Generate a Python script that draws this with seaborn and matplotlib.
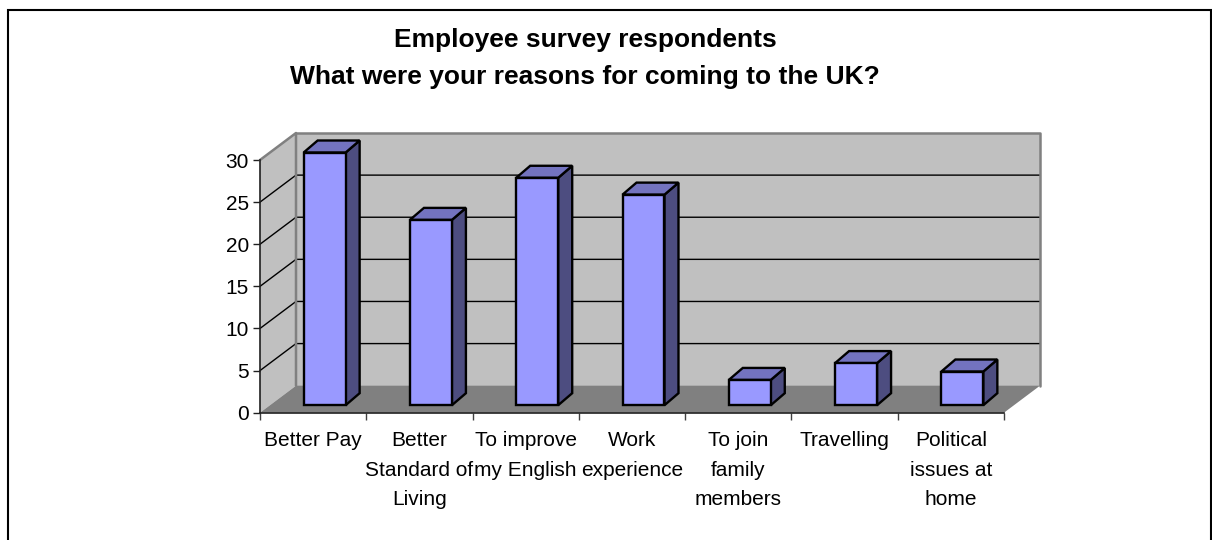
import matplotlib
matplotlib.use("Agg")
import matplotlib.pyplot as plt
from matplotlib.patches import Polygon, Rectangle
from matplotlib.transforms import Affine2D, IdentityTransform
import seaborn as sns

categories = [
    "Better Pay",
    "Better\nStandard of\nLiving",
    "To improve\nmy English",
    "Work\nexperience",
    "To join\nfamily\nmembers",
    "Travelling",
    "Political\nissues at\nhome",
]
responses = [30, 22, 27, 25, 3, 5, 4]
y_ticks = [0, 5, 10, 15, 20, 25, 30]

title_text = "Employee survey respondents\nWhat were your reasons for coming to the UK?"

W, H = 1212, 540
WALL_DX, WALL_DY = 36, 27      # depth of the chart box, in pixels
BAR_DX, BAR_DY = 14, 12        # depth of each bar, in pixels
BAR_OFF_X, BAR_OFF_Y = 11.5, 7.5  # bars sit in the middle of the box depth

WALL = "#C0C0C0"
FLOOR = "#808080"
BAR_FRONT = "#9999FF"
BAR_TOP = "#7373BF"
BAR_SIDE = "#4D4D80"

sns.set_style("white")
plt.rcParams["font.family"] = ["Liberation Sans", "DejaVu Sans"]

fig = plt.figure(figsize=(W / 100, H / 100), dpi=100, facecolor="white")
ax = fig.add_axes([260 / W, (H - 412.7) / H, 744 / W, 252.7 / H])
ax.patch.set_alpha(0)

sns.barplot(x=categories, y=responses, color=BAR_FRONT, saturation=1, width=0.395,
            edgecolor="black", linewidth=1.7, ax=ax, zorder=3)
ax.set_xlim(-0.5, 6.5)
ax.set_ylim(0, 30)
ax.set_yticks(y_ticks)
ax.set_ylabel("")
fig.canvas.draw()


def add_poly(points, face, edge="none", lw=0.0, z=1):
    ax.add_patch(Polygon(points, closed=True, facecolor=face, edgecolor=edge, linewidth=lw,
                         transform=IdentityTransform(), clip_on=False, zorder=z,
                         joinstyle="miter"))


def to_px(x, y):
    return ax.transData.transform((x, y))


# Box: side wall, back wall and floor
x0, x1 = ax.get_xlim()
y0, y1 = ax.get_ylim()
(ax0, ay0), (ax1, ay1) = to_px(x0, y0), to_px(x1, y1)
add_poly([(ax0, ay0), (ax0, ay1), (ax0 + WALL_DX, ay1 + WALL_DY), (ax0 + WALL_DX, ay0 + WALL_DY)],
         WALL, z=0.5)
add_poly([(ax0 + WALL_DX, ay0 + WALL_DY), (ax0 + WALL_DX, ay1 + WALL_DY),
          (ax1 + WALL_DX, ay1 + WALL_DY), (ax1 + WALL_DX, ay0 + WALL_DY)], WALL, z=0.5)
add_poly([(ax0, ay0), (ax1, ay0), (ax1 + WALL_DX, ay0 + WALL_DY), (ax0 + WALL_DX, ay0 + WALL_DY)],
         FLOOR, z=0.6)

# Gridlines run along the side wall and across the back wall
for tick in y_ticks[1:-1]:
    _, py = to_px(x0, tick)
    ax.plot([ax0, ax0 + WALL_DX, ax1 + WALL_DX], [py, py + WALL_DY, py + WALL_DY],
            color="black", lw=1.0, transform=IdentityTransform(), clip_on=False, zorder=0.8)

# Grey outline of the box walls
ax.plot([ax0, ax0 + WALL_DX, ax0 + WALL_DX], [ay1, ay1 + WALL_DY, ay0 + WALL_DY],
        color=FLOOR, lw=1.8, transform=IdentityTransform(), clip_on=False, zorder=0.9)
ax.plot([ax0 + WALL_DX, ax1 + WALL_DX, ax1 + WALL_DX], [ay1 + WALL_DY, ay1 + WALL_DY, ay0 + WALL_DY],
        color=FLOOR, lw=1.8, transform=IdentityTransform(), clip_on=False, zorder=0.9)

# Push the front faces back into the box and add their top and side faces
shift = ax.transData + Affine2D().translate(BAR_OFF_X, BAR_OFF_Y)
for bar in list(ax.patches):
    if not isinstance(bar, Rectangle):
        continue
    bar.set_transform(shift)
    bar.set_clip_on(False)
    left, right = bar.get_x(), bar.get_x() + bar.get_width()
    top = bar.get_height()
    (lx, by) = shift.transform((left, 0))
    (rx, ty) = shift.transform((right, top))
    add_poly([(rx, by), (rx + BAR_DX, by + BAR_DY), (rx + BAR_DX, ty + BAR_DY), (rx, ty)],
             BAR_SIDE, "black", 1.7, z=2.5)
    add_poly([(lx, ty), (lx + BAR_DX, ty + BAR_DY), (rx + BAR_DX, ty + BAR_DY), (rx, ty)],
             BAR_TOP, "black", 1.7, z=2.5)

# Axes
sns.despine(ax=ax, top=True, right=True)
for side in ("left", "bottom"):
    ax.spines[side].set_color("#202020")
    ax.spines[side].set_linewidth(1.2)
    ax.spines[side].set_zorder(4)
ax.set_xticks([i - 0.5 for i in range(8)])
ax.set_xticklabels([])
ax.set_xticks(range(7), categories, minor=True)
ax.tick_params(axis="x", which="major", length=5, width=1, color="#404040", bottom=True)
ax.tick_params(axis="x", which="minor", length=0, pad=13, labelsize=15, labelcolor="black", bottom=False)
ax.tick_params(axis="y", length=5, width=1, color="#202020", pad=3, labelsize=15, labelcolor="black", left=True)
for label in ax.get_xticklabels(minor=True):
    label.set_linespacing(1.72)
    label.set_ha("center")

# Title, centred over the plot area
fig.text(585 / W, (H - 58.5) / H, title_text, ha="center", va="center", fontsize=19,
         fontweight="bold", color="black", linespacing=1.69)

# Chart frame, which runs off the bottom edge
fig.add_artist(Rectangle((7.5 / W, -0.02), (1211 - 7.5) / W, (H - 9.5) / H + 0.02, fill=False,
                         edgecolor="black", linewidth=1.5, transform=fig.transFigure))

fig.savefig("out.png", dpi=100, facecolor="white")
